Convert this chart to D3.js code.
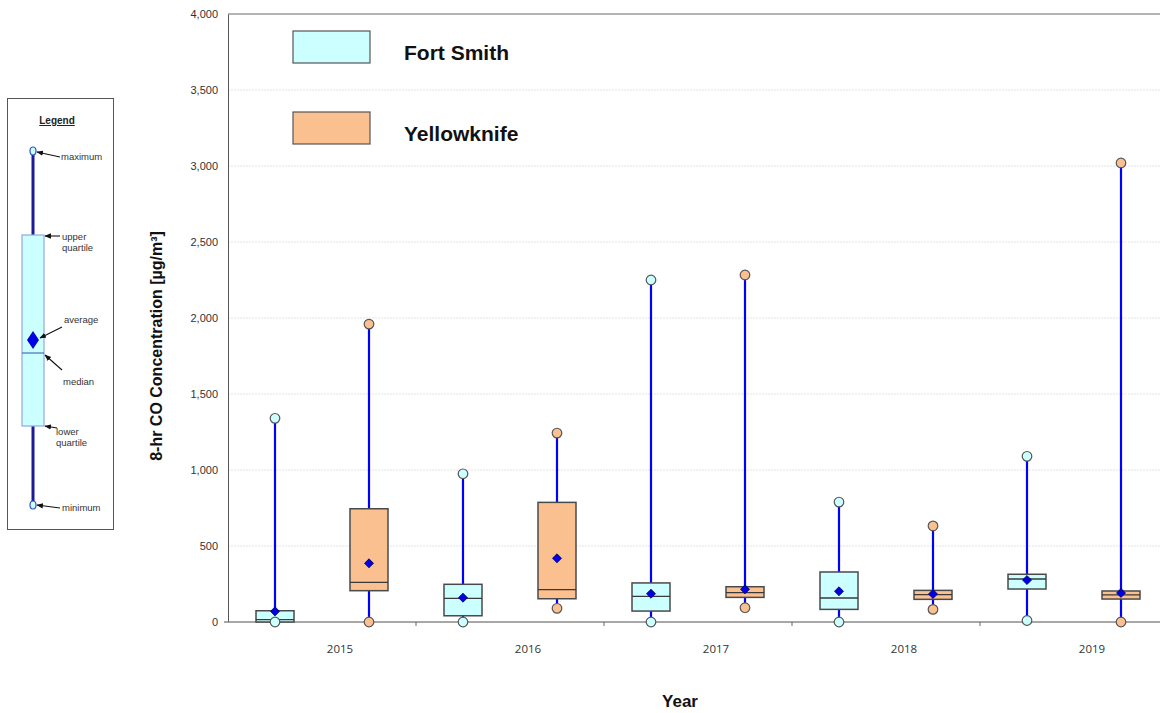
<!DOCTYPE html>
<html>
<head>
<meta charset="utf-8">
<script src="https://cdn.jsdelivr.net/npm/d3@7"></script>
<style>
  html, body { margin: 0; padding: 0; background: #fff; }
  svg { display: block; font-family: "Liberation Sans", Arial, sans-serif; }
</style>
</head>
<body>
<svg id="chart" width="1160" height="713"></svg>
<script>
// 8-hour CO concentration summaries by year and station
const years = ["2015", "2016", "2017", "2018", "2019"];
const cities = ["Fort Smith", "Yellowknife"];
const yTicks = [0, 500, 1000, 1500, 2000, 2500, 3000, 3500, 4000];

const fortSmithMin    = [0, 0, 0, 0, 10];
const fortSmithQ1     = [0, 41, 72, 83, 217];
const fortSmithMedian = [15, 156, 169, 158, 283];
const fortSmithMean   = [70, 160, 186, 202, 276];
const fortSmithQ3     = [74, 248, 257, 329, 314];
const fortSmithMax    = [1340, 975, 2250, 789, 1090];

const yellowknifeMin    = [0, 90, 94, 83, 0];
const yellowknifeQ1     = [206, 153, 162, 149, 151];
const yellowknifeMedian = [261, 213, 193, 180, 178];
const yellowknifeMean   = [386, 419, 215, 184, 191];
const yellowknifeQ3     = [745, 787, 232, 208, 204];
const yellowknifeMax    = [1960, 1243, 2283, 632, 3020];

const cityColors = { "Fort Smith": "#ccffff", "Yellowknife": "#fac090" };

const stats = {
  "Fort Smith":  { min: fortSmithMin, q1: fortSmithQ1, median: fortSmithMedian, mean: fortSmithMean, q3: fortSmithQ3, max: fortSmithMax },
  "Yellowknife": { min: yellowknifeMin, q1: yellowknifeQ1, median: yellowknifeMedian, mean: yellowknifeMean, q3: yellowknifeQ3, max: yellowknifeMax }
};

const rows = [];
years.forEach((yr, i) => {
  cities.forEach(c => {
    const s = stats[c];
    rows.push({ year: yr, city: c, min: s.min[i], q1: s.q1[i], median: s.median[i], mean: s.mean[i], q3: s.q3[i], max: s.max[i] });
  });
});

const svg = d3.select("#chart");

const plot = { left: 228, right: 1168, top: 14, bottom: 622 };

const y = d3.scaleLinear().domain([0, 4000]).range([plot.bottom, plot.top]);
const x = d3.scaleBand().domain(years).range([plot.left, plot.right]).padding(0);
const xi = d3.scaleBand().domain(cities).range([0, x.bandwidth()]).padding(0);
const boxW = 38;

// grid lines
svg.append("g")
  .selectAll("line")
  .data(yTicks.filter(t => t > 0))
  .join("line")
  .attr("x1", plot.left).attr("x2", 1160)
  .attr("y1", d => y(d)).attr("y2", d => y(d))
  .attr("stroke", d => d === 4000 ? "#9a9a9a" : "#e2e2e2")
  .attr("stroke-width", d => d === 4000 ? 1.5 : 1)
  .attr("stroke-dasharray", d => d === 4000 ? null : "2,1");

// y axis
const yAxis = svg.append("g")
  .attr("transform", `translate(${plot.left},0)`)
  .call(d3.axisLeft(y).tickValues(yTicks).tickFormat(d3.format(",")).tickSize(0).tickPadding(10));
yAxis.select(".domain").attr("stroke", "#555").attr("stroke-width", 1);
yAxis.selectAll("text")
  .attr("font-family", "'Liberation Sans', Arial, sans-serif")
  .attr("font-size", 11)
  .attr("fill", "#333");

// x axis baseline and tick marks between years
svg.append("line")
  .attr("x1", plot.left - 4).attr("x2", 1160)
  .attr("y1", plot.bottom).attr("y2", plot.bottom)
  .attr("stroke", "#8a8a8a").attr("stroke-width", 1.5);
svg.append("g")
  .selectAll("line")
  .data(years.slice(1))
  .join("line")
  .attr("x1", d => x(d)).attr("x2", d => x(d))
  .attr("y1", plot.bottom).attr("y2", plot.bottom + 4)
  .attr("stroke", "#666").attr("stroke-width", 1);

// year labels
svg.append("g")
  .selectAll("text")
  .data(years)
  .join("text")
  .attr("x", d => x(d) + x.bandwidth() / 2 + 18)
  .attr("y", 653)
  .attr("text-anchor", "middle")
  .attr("font-family", "'Open Sans', sans-serif")
  .attr("font-size", 11.5)
  .attr("fill", "#333")
  .text(d => d);

// axis titles
svg.append("text")
  .attr("transform", `translate(162,346) rotate(-90)`)
  .attr("text-anchor", "middle")
  .attr("font-weight", "bold")
  .attr("font-size", 16)
  .attr("fill", "#111")
  .text("8-hr CO Concentration [µg/m³]");

svg.append("text")
  .attr("x", 680).attr("y", 707)
  .attr("text-anchor", "middle")
  .attr("font-weight", "bold")
  .attr("font-size", 17)
  .attr("fill", "#111")
  .text("Year");

// box plots
const cx = d => x(d.year) + xi(d.city) + xi.bandwidth() / 2;
const g = svg.append("g");

const groups = g.selectAll("g.box").data(rows).join("g").attr("class", "box");

groups.append("line")
  .attr("x1", cx).attr("x2", cx)
  .attr("y1", d => y(d.min)).attr("y2", d => y(d.max))
  .attr("stroke", "#0000ff").attr("stroke-width", 2.2);

groups.append("rect")
  .attr("x", d => cx(d) - boxW / 2)
  .attr("width", boxW)
  .attr("y", d => y(d.q3))
  .attr("height", d => Math.max(0.5, y(d.q1) - y(d.q3)))
  .attr("fill", d => cityColors[d.city])
  .attr("stroke", "#4a4a4a").attr("stroke-width", 1.5);

groups.append("line")
  .attr("x1", d => cx(d) - boxW / 2).attr("x2", d => cx(d) + boxW / 2)
  .attr("y1", d => y(d.median)).attr("y2", d => y(d.median))
  .attr("stroke", "#3a3a3a").attr("stroke-width", 1.3);

groups.append("path")
  .attr("d", d3.symbol(d3.symbolDiamond2, 52)())
  .attr("transform", d => `translate(${cx(d)},${y(d.mean)})`)
  .attr("fill", "#0000e0").attr("stroke", "#000060").attr("stroke-width", 0.8);

["max", "min"].forEach(k => {
  groups.append("circle")
    .attr("cx", cx)
    .attr("cy", d => y(d[k]))
    .attr("r", 4.8)
    .attr("fill", d => cityColors[d.city])
    .attr("stroke", "#555").attr("stroke-width", 1.2);
});

// series key
const key = svg.append("g");
cities.forEach((c, i) => {
  const top = 31 + i * 81;
  key.append("rect")
    .attr("x", 293).attr("y", top).attr("width", 77).attr("height", 32)
    .attr("fill", cityColors[c]).attr("stroke", "#555").attr("stroke-width", 1.2);
  key.append("text")
    .attr("x", 404).attr("y", top + 29)
    .attr("font-weight", "bold").attr("font-size", 21).attr("fill", "#111")
    .text(c);
});

// box plot anatomy key on the left
const lg = svg.append("g").attr("font-family", "'Liberation Sans', Arial, sans-serif");
lg.append("rect")
  .attr("x", 7.5).attr("y", 98.5).attr("width", 106).attr("height", 431)
  .attr("fill", "#fff").attr("stroke", "#555").attr("stroke-width", 1);
lg.append("text")
  .attr("x", 57).attr("y", 124)
  .attr("text-anchor", "middle").attr("font-weight", "bold").attr("font-size", 10)
  .attr("text-decoration", "underline").attr("fill", "#222")
  .text("Legend");

const lx = 33;
lg.append("line").attr("x1", lx).attr("x2", lx).attr("y1", 151).attr("y2", 505)
  .attr("stroke", "#1b1b9a").attr("stroke-width", 3);
lg.append("rect").attr("x", 22).attr("y", 235).attr("width", 22).attr("height", 191)
  .attr("fill", "#ccffff").attr("stroke", "#90a8e0").attr("stroke-width", 1.2);
lg.append("line").attr("x1", 22).attr("x2", 44).attr("y1", 353).attr("y2", 353)
  .attr("stroke", "#3050b0").attr("stroke-width", 1);
lg.append("path").attr("d", "M33,331 L39,340 L33,349 L27,340 Z").attr("fill", "#0000e0");
[151, 505].forEach(cy => {
  lg.append("ellipse").attr("cx", lx).attr("cy", cy).attr("rx", 3).attr("ry", 4)
    .attr("fill", "#ccffff").attr("stroke", "#3050c0").attr("stroke-width", 1.2);
});

const defs = svg.append("defs");
defs.append("marker").attr("id", "arrow").attr("viewBox", "0 0 10 10")
  .attr("refX", 9).attr("refY", 5).attr("markerWidth", 6).attr("markerHeight", 6)
  .attr("orient", "auto")
  .append("path").attr("d", "M0,1 L10,5 L0,9 Z").attr("fill", "#111");

const pointers = [
  { from: [60, 157], to: [37, 152] },
  { from: [60, 236], to: [45, 236] },
  { from: [62, 327], to: [40, 338] },
  { from: [62, 370], to: [45, 355] },
  { from: [57, 428], to: [45, 426] },
  { from: [60, 508], to: [37, 505] }
];
lg.selectAll("line.ptr").data(pointers).join("line").attr("class", "ptr")
  .attr("x1", d => d.from[0]).attr("y1", d => d.from[1])
  .attr("x2", d => d.to[0]).attr("y2", d => d.to[1])
  .attr("stroke", "#111").attr("stroke-width", 1.1)
  .attr("marker-end", "url(#arrow)");

const notes = [
  { t: "maximum", x: 61, y: 160 },
  { t: "upper", x: 62, y: 240 },
  { t: "quartile", x: 62, y: 251 },
  { t: "average", x: 64, y: 323 },
  { t: "median", x: 63, y: 385 },
  { t: "lower", x: 56, y: 435 },
  { t: "quartile", x: 56, y: 446 },
  { t: "minimum", x: 62, y: 511 }
];
lg.selectAll("text.note").data(notes).join("text").attr("class", "note")
  .attr("x", d => d.x).attr("y", d => d.y)
  .attr("font-size", 9.5).attr("fill", "#333")
  .text(d => d.t);
</script>
</body>
</html>
